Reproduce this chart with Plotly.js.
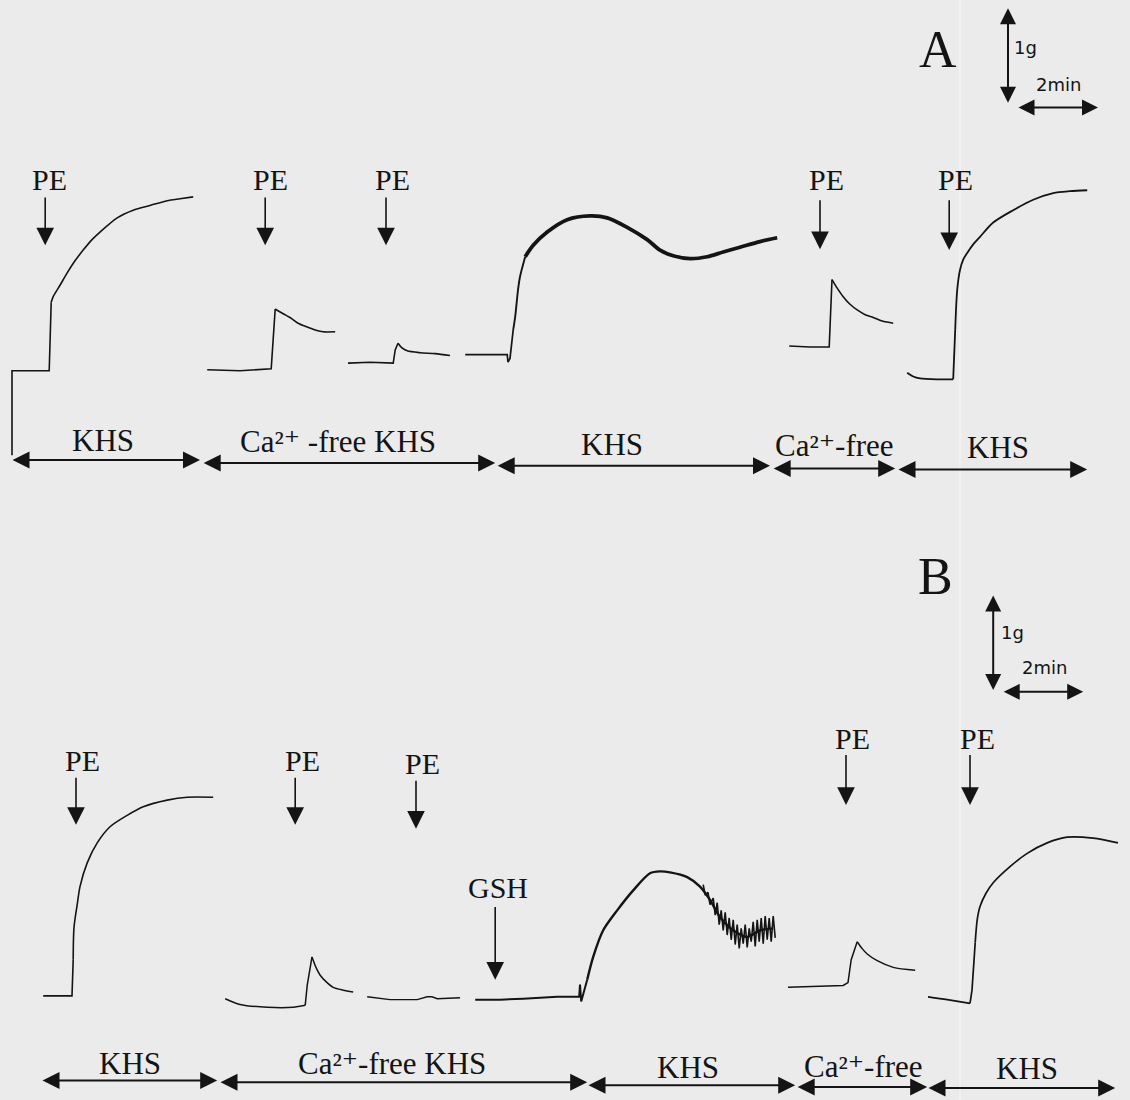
<!DOCTYPE html>
<html>
<head>
<meta charset="utf-8">
<script src="https://cdn.plot.ly/plotly-3.0.1.min.js"></script>
<style>
  html, body { margin: 0; padding: 0; background: #ebebeb; }
  #chart { width: 1130px; height: 1100px; }
</style>
</head>
<body>
<div id="chart"></div>
<script>
// ---------- Panel A traces: time (min) and tension (g) ----------
const a1Time  = [0.30, 0.30, 1.23, 1.28, 1.33, 1.50, 1.68, 1.88, 2.08, 2.30, 2.50, 2.93, 3.33, 3.75, 4.18, 4.50, 4.83];
const a1Force = [0.26, 1.15, 1.15, 1.87, 1.93, 2.05, 2.18, 2.31, 2.42, 2.53, 2.61, 2.76, 2.84, 2.89, 2.94, 2.96, 2.98];

const a2Time  = [5.18, 6.00, 6.78, 6.88, 7.08, 7.25, 7.45, 7.68, 7.88, 8.08, 8.38];
const a2Force = [1.16, 1.15, 1.17, 1.80, 1.75, 1.71, 1.65, 1.61, 1.58, 1.56, 1.56];

const a3Time  = [8.70, 9.25, 9.83, 9.88, 9.95, 10.05, 10.18, 10.50, 10.88, 11.25];
const a3Force = [1.23, 1.24, 1.23, 1.37, 1.44, 1.39, 1.36, 1.34, 1.33, 1.31];

const a4RiseTime  = [11.63, 12.13, 12.68, 12.70, 12.75, 12.83, 12.88, 12.95, 13.00, 13.13];
const a4RiseForce = [1.32, 1.32, 1.32, 1.24, 1.28, 1.58, 1.72, 2.00, 2.14, 2.35];
const a4WaveTime  = [13.13, 13.33, 13.68, 14.18, 14.75, 15.18, 15.68, 16.18, 16.50, 16.83, 17.25, 17.68, 18.08, 18.50, 19.00, 19.43];
const a4WaveForce = [2.35, 2.47, 2.61, 2.74, 2.78, 2.76, 2.66, 2.53, 2.42, 2.36, 2.33, 2.35, 2.40, 2.45, 2.51, 2.55];

const a5Time  = [19.73, 20.25, 20.73, 20.78, 20.80, 20.93, 21.08, 21.25, 21.43, 21.63, 21.83, 22.08, 22.33];
const a5Force = [1.41, 1.40, 1.40, 2.00, 2.11, 2.02, 1.93, 1.85, 1.79, 1.74, 1.71, 1.67, 1.65];

const a6Time  = [22.68, 22.83, 23.00, 23.43, 23.83, 23.88, 23.93, 24.00, 24.08, 24.18, 24.33, 24.50, 24.83, 25.33, 25.83, 26.33, 26.75, 27.18];
const a6Force = [1.13, 1.09, 1.07, 1.06, 1.06, 1.58, 2.00, 2.21, 2.32, 2.39, 2.48, 2.56, 2.71, 2.84, 2.95, 3.02, 3.04, 3.05];

// ---------- Panel B traces ----------
const b1Time  = [1.08, 1.80, 1.83, 1.85, 1.93, 2.00, 2.18, 2.43, 2.75, 3.18, 3.58, 4.18, 4.68, 5.33];
const b1Force = [0.57, 0.57, 0.95, 1.29, 1.53, 1.72, 1.97, 2.18, 2.35, 2.47, 2.56, 2.63, 2.66, 2.66];

const b2Time  = [5.63, 6.00, 6.68, 7.33, 7.63, 7.68, 7.80, 7.90, 8.00, 8.15, 8.33, 8.58, 8.83];
const b2Force = [0.54, 0.48, 0.45, 0.45, 0.47, 0.68, 0.98, 0.87, 0.79, 0.72, 0.66, 0.63, 0.61];

const b3Time  = [9.18, 9.75, 10.43, 10.68, 10.80, 10.93, 11.50];
const b3Force = [0.56, 0.53, 0.53, 0.56, 0.56, 0.54, 0.55];

const b4Time  = [11.88, 12.50, 13.08, 13.93, 14.48, 14.50, 14.53, 14.68, 14.83, 15.08, 15.43, 15.83, 16.25, 16.50, 16.75, 17.18, 17.50, 17.75, 18.00, 18.33, 18.68, 19.00, 19.33];
const b4Force = [0.53, 0.53, 0.54, 0.56, 0.56, 0.69, 0.51, 0.74, 0.98, 1.26, 1.47, 1.68, 1.86, 1.88, 1.87, 1.82, 1.72, 1.58, 1.40, 1.26, 1.19, 1.26, 1.28];
// oscillating end of the GSH-treated contraction
const b4NoiseTime  = [17.58, 17.63, 17.70, 17.75, 17.83, 17.88, 17.93, 17.98, 18.03, 18.08, 18.13, 18.18, 18.23, 18.28, 18.33, 18.38, 18.43, 18.48, 18.53, 18.58, 18.63, 18.68, 18.73, 18.78, 18.83, 18.88, 18.93, 18.98, 19.03, 19.08, 19.13, 19.18, 19.23, 19.28, 19.33, 19.38];
const b4NoiseForce = [1.74, 1.63, 1.66, 1.53, 1.60, 1.42, 1.55, 1.32, 1.47, 1.26, 1.45, 1.21, 1.39, 1.16, 1.37, 1.11, 1.32, 1.07, 1.28, 1.12, 1.32, 1.08, 1.28, 1.14, 1.35, 1.09, 1.37, 1.14, 1.39, 1.12, 1.41, 1.16, 1.39, 1.14, 1.41, 1.18];

const b5Time  = [19.70, 20.50, 21.08, 21.20, 21.28, 21.43, 21.55, 21.68, 21.93, 22.33, 22.88];
const b5Force = [0.66, 0.67, 0.68, 0.71, 0.95, 1.14, 1.07, 1.01, 0.94, 0.87, 0.84];

const b6Time  = [23.20, 23.68, 24.25, 24.30, 24.38, 24.43, 24.50, 24.65, 24.83, 25.25, 25.68, 26.18, 26.68, 27.33, 27.95];
const b6Force = [0.56, 0.53, 0.49, 0.63, 1.13, 1.37, 1.51, 1.65, 1.76, 1.93, 2.07, 2.18, 2.24, 2.23, 2.18];

// ---------- Event markers (drug additions) ----------
const peA_time = [1.13, 6.63, 9.65, 20.50, 23.73];
const peA_top  = [2.98, 2.98, 2.98, 2.95, 2.95];
const peA_tip  = [2.47, 2.47, 2.47, 2.43, 2.42];
const peA_labelX = [1.23, 6.75, 9.80, 20.65, 23.88];
const peA_labelY = [3.16, 3.16, 3.16, 3.16, 3.16];

const peB_time = [1.90, 7.38, 10.40, 21.15, 24.25];
const peB_top  = [2.87, 2.87, 2.84, 3.11, 3.11];
const peB_tip  = [2.37, 2.37, 2.33, 2.58, 2.58];
const peB_labelX = [2.05, 7.55, 10.55, 21.30, 24.43];
const peB_labelY = [3.05, 3.05, 3.02, 3.28, 3.28];

// ---------- Solution periods ----------
const solA_labels = ['KHS', 'Ca²⁺ -free KHS', 'KHS', 'Ca²⁺-free', 'KHS'];
const solA_start  = [0.30, 5.08, 12.43, 19.33, 22.45];
const solA_end    = [5.00, 12.38, 19.25, 22.38, 27.18];
const solA_arrowY = [0.21, 0.18, 0.15, 0.12, 0.11];
const solA_labelX = [2.58, 8.45, 15.30, 20.85, 24.95];
const solA_labelY = [0.42, 0.41, 0.37, 0.36, 0.34];

const solB_labels = ['KHS', 'Ca²⁺-free KHS', 'KHS', 'Ca²⁺-free', 'KHS'];
const solB_start  = [1.05, 5.50, 14.70, 19.93, 23.20];
const solB_end    = [5.43, 14.68, 19.88, 23.18, 27.88];
const solB_arrowY = [-0.32, -0.34, -0.37, -0.39, -0.40];
const solB_labelX = [3.25, 9.80, 17.20, 21.58, 25.68];
const solB_labelY = [-0.14, -0.14, -0.18, -0.17, -0.19];

const INK = '#141414';
const SERIF = '"Liberation Serif", "DejaVu Serif", "Times New Roman", serif';
const SANS = '"DejaVu Sans", Verdana, sans-serif';

// one trace piece: step parts drawn straight, slow parts smoothed
function seg(x, y, yaxis, width, from, to, smooth) {
  return { type: 'scatter', mode: 'lines', x: x.slice(from, to), y: y.slice(from, to),
           yaxis: yaxis, xaxis: 'x', hoverinfo: 'skip',
           line: smooth ? { color: INK, width: width, shape: 'spline', smoothing: 0.8 }
                        : { color: INK, width: width, shape: 'linear' } };
}

const traces = [
  seg(a1Time, a1Force, 'y', 1.6, 0, 4, false),
  seg(a1Time, a1Force, 'y', 1.6, 3, undefined, true),
  seg(a2Time, a2Force, 'y', 1.6, 0, 4, false),
  seg(a2Time, a2Force, 'y', 1.6, 3, undefined, true),
  seg(a3Time, a3Force, 'y', 1.6, 0, 5, false),
  seg(a3Time, a3Force, 'y', 1.6, 4, undefined, true),
  seg(a4RiseTime, a4RiseForce, 'y', 1.7, 0, 6, false),
  seg(a4RiseTime, a4RiseForce, 'y', 1.9, 5, undefined, true),
  seg(a4WaveTime, a4WaveForce, 'y', 3.8, 0, undefined, true),
  seg(a5Time, a5Force, 'y', 1.6, 0, 5, false),
  seg(a5Time, a5Force, 'y', 1.6, 4, undefined, true),
  seg(a6Time, a6Force, 'y', 1.8, 0, 5, true),
  seg(a6Time, a6Force, 'y', 1.8, 4, 6, false),
  seg(a6Time, a6Force, 'y', 1.8, 5, undefined, true),
  seg(b1Time, b1Force, 'y2', 1.6, 0, 3, false),
  seg(b1Time, b1Force, 'y2', 1.6, 2, undefined, true),
  seg(b2Time, b2Force, 'y2', 1.5, 0, 5, true),
  seg(b2Time, b2Force, 'y2', 1.5, 4, 7, false),
  seg(b2Time, b2Force, 'y2', 1.5, 6, undefined, true),
  seg(b3Time, b3Force, 'y2', 1.4, 0, undefined, false),
  seg(b4Time, b4Force, 'y2', 2.0, 0, 8, false),
  seg(b4Time, b4Force, 'y2', 2.4, 7, undefined, true),
  seg(b4NoiseTime, b4NoiseForce, 'y2', 1.6, 0, undefined, false),
  seg(b5Time, b5Force, 'y2', 1.5, 0, 6, false),
  seg(b5Time, b5Force, 'y2', 1.5, 5, undefined, true),
  seg(b6Time, b6Force, 'y2', 1.7, 0, 3, true),
  seg(b6Time, b6Force, 'y2', 1.7, 2, 5, false),
  seg(b6Time, b6Force, 'y2', 1.7, 4, undefined, true)
];

const ann = [];
function arrow(x, y, ax, ay, yref, opts) {
  ann.push(Object.assign({
    x: x, y: y, ax: ax, ay: ay, xref: 'x', yref: yref, axref: 'x', ayref: yref,
    text: '', showarrow: true, arrowhead: 2, arrowsize: 2.2, arrowwidth: 1.6,
    arrowcolor: INK, standoff: 0, font: { size: 1 }, borderpad: 0
  }, opts || {}));
}
function label(text, x, y, yref, size, family) {
  ann.push({ x: x, y: y, xref: 'x', yref: yref, text: text, showarrow: false,
             xanchor: 'center', yanchor: 'middle',
             font: { family: family || SERIF, size: size || 30, color: INK } });
}
const dbl = { arrowside: 'end+start', startarrowhead: 2, arrowsize: 1.7, startarrowsize: 1.7,
              arrowwidth: 2, startstandoff: 0 };

// PE events
peA_time.forEach((t, i) => {
  arrow(t, peA_tip[i], t, peA_top[i], 'y');
  label('PE', peA_labelX[i], peA_labelY[i], 'y');
});
peB_time.forEach((t, i) => {
  arrow(t, peB_tip[i], t, peB_top[i], 'y2');
  label('PE', peB_labelX[i], peB_labelY[i], 'y2');
});
// GSH event
arrow(12.38, 0.74, 12.38, 1.51, 'y2');
label('GSH', 12.45, 1.71, 'y2');

// solution period bars
solA_labels.forEach((s, i) => {
  arrow(solA_end[i], solA_arrowY[i], solA_start[i], solA_arrowY[i], 'y', dbl);
  label(s, solA_labelX[i], solA_labelY[i], 'y', 31);
});
solB_labels.forEach((s, i) => {
  arrow(solB_end[i], solB_arrowY[i], solB_start[i], solB_arrowY[i], 'y2', dbl);
  label(s, solB_labelX[i], solB_labelY[i], 'y2', 31);
});

// panel letters
label('A', 23.45, 4.53, 'y', 52);
label('B', 23.38, 4.98, 'y2', 52);

// scale bars: 1 g and 2 min
const sb = { arrowside: 'end+start', startarrowhead: 2, arrowsize: 1.6, startarrowsize: 1.6,
             arrowwidth: 2, startstandoff: 0 };
arrow(25.20, 3.97, 25.20, 4.97, 'y', sb);
arrow(27.45, 3.92, 25.45, 3.92, 'y', sb);
label('1g', 25.63, 4.55, 'y', 18, SANS);
label('2min', 26.45, 4.16, 'y', 18, SANS);

arrow(24.83, 3.79, 24.83, 4.79, 'y2', sb);
arrow(27.08, 3.77, 25.08, 3.77, 'y2', sb);
label('1g', 25.30, 4.40, 'y2', 18, SANS);
label('2min', 26.10, 4.03, 'y2', 18, SANS);

const layout = {
  width: 1130, height: 1100,
  margin: { l: 0, r: 0, t: 0, b: 0, pad: 0 },
  paper_bgcolor: '#ebebeb', plot_bgcolor: 'rgba(0,0,0,0)',
  showlegend: false,
  xaxis: { range: [0, 28.25], visible: false, domain: [0, 1], fixedrange: true },
  yaxis: { range: [-0.7368, 5.0526], visible: false, domain: [0.5, 1], fixedrange: true },
  yaxis2: { range: [-0.5263, 5.2632], visible: false, domain: [0, 0.5], anchor: 'x', fixedrange: true },
  annotations: ann,
  shapes: [
    { type: 'line', xref: 'x', yref: 'paper', x0: 24.0, x1: 24.0, y0: 0, y1: 1,
      line: { color: '#f3f3f3', width: 1.5 }, layer: 'below' }
  ]
};

Plotly.newPlot('chart', traces, layout, { staticPlot: true, displayModeBar: false });
</script>
</body>
</html>
